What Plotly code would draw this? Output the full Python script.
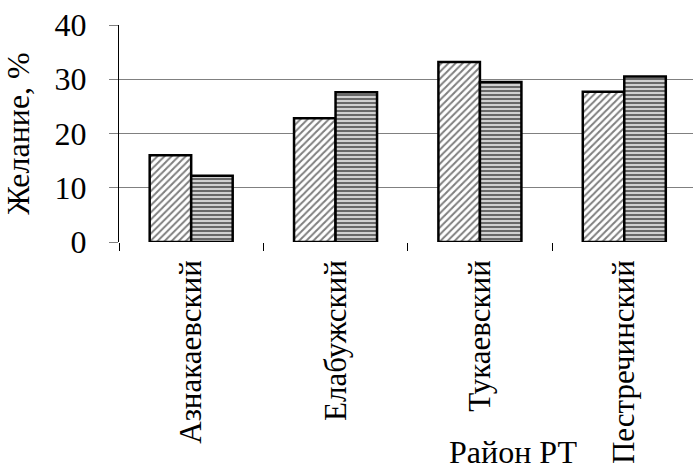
import plotly.graph_objects as go

# Districts of the Republic of Tatarstan and the share (%) expressing the wish
districts = ["Азнакаевский", "Елабужский", "Тукаевский", "Пестречинский"]
series_a = [16.0, 22.8, 33.2, 27.7]   # diagonal hatching
series_b = [12.2, 27.6, 29.5, 30.5]   # horizontal stripes
y_ticks = [0, 10, 20, 30, 40]

FONT = "Liberation Serif"
FS = 32

fig = go.Figure()
fig.add_trace(go.Bar(
    x=districts, y=series_a,
    marker=dict(
        color="white",
        line=dict(color="black", width=2.5),
        pattern=dict(shape="/", fgcolor="black", bgcolor="white", size=5, solidity=0.4),
    ),
    showlegend=False,
))
fig.add_trace(go.Bar(
    x=districts, y=series_b,
    marker=dict(
        color="#d0d0d0",
        line=dict(color="black", width=2.5),
        pattern=dict(shape="-", fgcolor="black", bgcolor="#d0d0d0", size=4, solidity=0.5),
    ),
    showlegend=False,
))

fig.update_layout(
    width=693, height=469,
    margin=dict(l=119, r=0, t=25, b=227),
    paper_bgcolor="white", plot_bgcolor="white",
    barmode="group", bargap=0.425, bargroupgap=0,
    font=dict(family=FONT, size=FS, color="black"),
)

fig.update_xaxes(
    range=[-0.5, 3.476],
    automargin=False,
    tickangle=-90,
    tickson="boundaries",
    ticks="outside", ticklen=8, tickcolor="black", tickwidth=1,
    ticklabelstandoff=11,
    showline=False,
    showgrid=False,
    tickfont=dict(family=FONT, size=31, color="black"),
)
fig.update_yaxes(
    range=[0, 40],
    automargin=False,
    tickvals=y_ticks,
    ticks="outside", ticklen=9, tickcolor="#808080", tickwidth=1,
    ticklabelstandoff=16,
    showline=True, linecolor="black", linewidth=1,
    showgrid=True, gridcolor="#808080", gridwidth=1,
    zeroline=False,
    tickfont=dict(family=FONT, size=FS, color="black"),
    title=dict(text="Желание, %", font=dict(family=FONT, size=FS, color="black"), standoff=18),
)

# axis name below the category labels, positioned in plot-fraction units
fig.add_annotation(
    text="Район РТ",
    x=(513 - 119) / (693 - 119), y=-(452 - 242) / 217,
    xref="paper", yref="paper",
    xanchor="center", yanchor="middle",
    showarrow=False, font=dict(family=FONT, size=FS, color="black"),
)

fig.write_html("out.html")
